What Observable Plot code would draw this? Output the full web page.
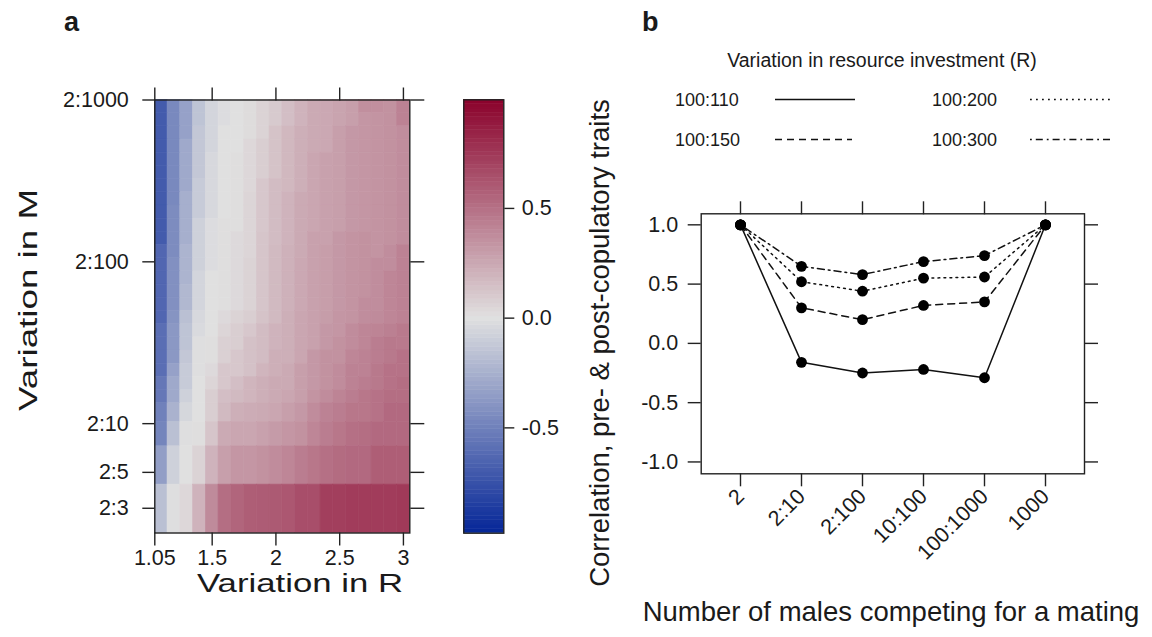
<!DOCTYPE html>
<html><head><meta charset="utf-8">
<script src="https://cdn.jsdelivr.net/npm/d3@7"></script>
<script src="https://cdn.jsdelivr.net/npm/@observablehq/plot@0.6"></script>
<style>
html,body{margin:0;padding:0;background:#fff;}
#wrap{position:relative;width:1152px;height:637px;overflow:hidden;background:#fff;}
#wrap > svg{position:absolute;left:0;top:0;}
</style></head><body><div id="wrap"></div>
<script>
// ---------- Panel a data ----------
// column edges of Variation in R
const rEdges = [1.05,1.15,1.25,1.35,1.45,1.55,1.65,1.75,1.85,1.95,2.05,2.15,2.25,2.35,2.45,2.55,2.65,2.75,2.85,2.95,3.05];
// row edges of Variation in M (2:n, value n), top to bottom
const mEdges = [1000,828.8,687.1,569.7,472.2,391.4,324.4,268.9,222.9,184.8,153.2,126.9,105.2,87.23,72.31,59.95,49.70,41.19,34.14,28.31,23.46,19.45,16.12,13.37,10.23,7.24,4.20,2.11];
const rTicks = [1.05,1.5,2,2.5,3];
const mTicks = [3,5,10,100,1000];
const mTickLabels = ["2:3","2:5","2:10","2:100","2:1000"];
// correlation values, rows top (2:1000) to bottom (2:3), columns R 1.05 -> 3.05
const corr = [
[-0.70,-0.46,-0.33,-0.15,-0.06,-0.02,0.00,0.02,0.06,0.10,0.15,0.20,0.24,0.25,0.27,0.29,0.36,0.36,0.35,0.42],
[-0.70,-0.46,-0.33,-0.15,-0.06,-0.02,0.00,0.02,0.06,0.10,0.15,0.20,0.24,0.25,0.27,0.29,0.33,0.34,0.35,0.42],
[-0.70,-0.46,-0.33,-0.13,-0.06,0.00,0.00,0.02,0.06,0.13,0.18,0.22,0.24,0.25,0.29,0.32,0.33,0.34,0.35,0.37],
[-0.70,-0.46,-0.29,-0.13,-0.06,0.00,0.00,0.04,0.08,0.13,0.18,0.22,0.24,0.25,0.29,0.32,0.33,0.34,0.35,0.37],
[-0.70,-0.46,-0.29,-0.13,-0.04,0.00,0.01,0.04,0.08,0.13,0.18,0.22,0.26,0.28,0.29,0.32,0.33,0.34,0.35,0.37],
[-0.70,-0.46,-0.29,-0.13,-0.04,0.00,0.01,0.04,0.08,0.13,0.18,0.22,0.26,0.28,0.29,0.32,0.33,0.34,0.35,0.37],
[-0.70,-0.46,-0.29,-0.11,-0.04,0.00,0.01,0.04,0.11,0.16,0.18,0.22,0.26,0.28,0.29,0.32,0.33,0.34,0.35,0.37],
[-0.70,-0.46,-0.26,-0.11,-0.04,0.00,0.01,0.05,0.11,0.16,0.20,0.24,0.26,0.28,0.29,0.32,0.33,0.34,0.35,0.37],
[-0.70,-0.44,-0.26,-0.11,-0.04,0.00,0.01,0.05,0.11,0.16,0.20,0.24,0.26,0.28,0.29,0.32,0.33,0.34,0.35,0.37],
[-0.70,-0.44,-0.26,-0.08,-0.02,0.01,0.01,0.05,0.11,0.16,0.20,0.24,0.26,0.28,0.29,0.32,0.33,0.34,0.35,0.37],
[-0.70,-0.44,-0.26,-0.08,-0.02,0.01,0.03,0.05,0.12,0.16,0.20,0.24,0.28,0.28,0.32,0.34,0.35,0.34,0.35,0.37],
[-0.64,-0.44,-0.23,-0.08,-0.02,0.01,0.03,0.05,0.12,0.17,0.21,0.24,0.28,0.295,0.32,0.34,0.35,0.34,0.37,0.42],
[-0.64,-0.42,-0.23,-0.08,-0.02,0.01,0.03,0.06,0.12,0.17,0.21,0.25,0.28,0.295,0.32,0.34,0.35,0.37,0.37,0.42],
[-0.64,-0.42,-0.23,-0.06,0.00,0.01,0.03,0.06,0.12,0.17,0.21,0.25,0.28,0.295,0.32,0.34,0.35,0.37,0.40,0.42],
[-0.64,-0.42,-0.21,-0.06,0.00,0.01,0.03,0.06,0.12,0.17,0.21,0.25,0.28,0.295,0.32,0.34,0.35,0.37,0.40,0.42],
[-0.64,-0.42,-0.21,-0.06,0.00,0.01,0.03,0.06,0.12,0.17,0.21,0.25,0.28,0.295,0.32,0.34,0.37,0.37,0.40,0.42],
[-0.64,-0.40,-0.17,-0.04,0.00,0.03,0.06,0.08,0.13,0.17,0.22,0.26,0.28,0.30,0.33,0.34,0.37,0.38,0.40,0.42],
[-0.60,-0.38,-0.15,-0.03,0.00,0.05,0.08,0.11,0.16,0.20,0.22,0.26,0.28,0.32,0.33,0.375,0.40,0.41,0.43,0.455],
[-0.60,-0.38,-0.15,-0.01,0.01,0.07,0.08,0.14,0.16,0.20,0.22,0.26,0.28,0.32,0.35,0.375,0.40,0.44,0.46,0.455],
[-0.60,-0.38,-0.13,-0.01,0.01,0.07,0.11,0.14,0.16,0.22,0.22,0.26,0.32,0.35,0.35,0.40,0.42,0.44,0.46,0.49],
[-0.60,-0.33,-0.11,-0.01,0.03,0.11,0.11,0.14,0.19,0.22,0.24,0.29,0.32,0.35,0.375,0.42,0.42,0.46,0.49,0.49],
[-0.55,-0.29,-0.11,0.00,0.05,0.11,0.15,0.19,0.22,0.24,0.24,0.29,0.32,0.35,0.375,0.42,0.44,0.46,0.49,0.51],
[-0.55,-0.29,-0.08,0.00,0.08,0.15,0.17,0.19,0.22,0.24,0.26,0.29,0.34,0.375,0.41,0.44,0.47,0.49,0.51,0.51],
[-0.50,-0.24,-0.05,0.00,0.08,0.17,0.22,0.23,0.24,0.26,0.29,0.32,0.375,0.42,0.44,0.47,0.47,0.49,0.53,0.53],
[-0.48,-0.17,-0.01,0.01,0.12,0.24,0.26,0.26,0.28,0.31,0.33,0.35,0.40,0.44,0.47,0.50,0.51,0.53,0.53,0.53],
[-0.35,-0.08,0.00,0.06,0.20,0.29,0.33,0.33,0.35,0.375,0.40,0.44,0.47,0.50,0.52,0.53,0.53,0.58,0.58,0.58],
[-0.17,-0.01,0.04,0.20,0.38,0.51,0.55,0.58,0.59,0.60,0.61,0.65,0.65,0.72,0.72,0.73,0.73,0.73,0.73,0.74]
];
const keyTicks = [-0.5,0,0.5];
const keyRange = [-0.98,0.995];

// ---------- Panel b data ----------
const males = ["2","2:10","2:100","10:100","100:1000","1000"];
const r110 = [1.00,-0.16,-0.25,-0.22,-0.29,1.00];
const r150 = [1.00,0.30,0.20,0.32,0.35,1.00];
const r200 = [1.00,0.52,0.44,0.55,0.56,1.00];
const r300 = [1.00,0.65,0.58,0.69,0.74,1.00];
const seriesNames = ["100:110","100:150","100:200","100:300"];
const corrTicks = [-1,-0.5,0,0.5,1];

// ---------- styles ----------
const FONT = "'Liberation Sans', Arial, Helvetica, sans-serif";
const INK = "#1a1a1a";
const dashes = {"100:110": null, "100:150": "7,5", "100:200": "1.8,4.2", "100:300": "1.8,4,7,4"};
const colorOpts = {type: "linear", domain: [-1, 0, 1], range: ["rgb(0,34,150)", "rgb(224,224,224)", "rgb(138,0,42)"], interpolate: "rgb"};
const baseStyle = {fontFamily: FONT, fontSize: "21.5px", color: INK, background: "transparent", overflow: "visible"};
const W = 1152, H = 637;

const wrap = document.getElementById("wrap");

// ---------- Panel a heatmap ----------
const cells = [];
corr.forEach((row, i) => row.forEach((v, j) => cells.push({
  x1: rEdges[j], x2: rEdges[j + 1], y1: mEdges[i + 1], y2: mEdges[i], v
})));
const noLab = () => "";
const mTickRows = mTicks.map((t, i) => ({t, label: mTickLabels[i]}));
const plotA = Plot.plot({
  width: W, height: H,
  marginLeft: 154.3, marginRight: W - 409.3, marginTop: 99.5, marginBottom: H - 532.5,
  style: baseStyle,
  x: {domain: [1.05, 3.05]},
  y: {type: "log", domain: [2.11, 1000]},
  color: colorOpts,
  marks: [
    Plot.rect(cells, {x1: "x1", x2: "x2", y1: "y1", y2: "y2", fill: "v", stroke: "v", strokeWidth: 0.6}),
    Plot.frame({stroke: "#222", strokeWidth: 1.4}),
    Plot.axisX({anchor: "bottom", ticks: rTicks, tickFormat: d => String(d), tickSize: 13, tickPadding: 4, stroke: "#222", strokeWidth: 1.4, label: null}),
    Plot.axisX({anchor: "top", ticks: rTicks, tickFormat: noLab, tickSize: 13, stroke: "#222", strokeWidth: 1.4, label: null}),
    Plot.axisY({anchor: "left", ticks: mTicks, tickFormat: noLab, tickSize: 12, stroke: "#222", strokeWidth: 1.4, label: null}),
    Plot.text(mTickRows, {y: "t", text: "label", frameAnchor: "left", dx: -26, textAnchor: "end", fill: INK}),
    Plot.axisY({anchor: "right", ticks: mTicks, tickFormat: noLab, tickSize: 14, stroke: "#222", strokeWidth: 1.4, label: null})
  ]
});
wrap.appendChild(plotA);

// ---------- colour key ----------
const nBands = 100;
const bands = d3.range(nBands).map(i => {
  const lo = keyRange[0] + (keyRange[1] - keyRange[0]) * i / nBands;
  const hi = keyRange[0] + (keyRange[1] - keyRange[0]) * (i + 1) / nBands;
  return {lo, hi, mid: (lo + hi) / 2};
});
const plotKey = Plot.plot({
  width: W, height: H,
  marginLeft: 463.3, marginRight: W - 503.3, marginTop: 99.3, marginBottom: H - 532.7,
  style: baseStyle,
  x: {domain: [0, 1], axis: null},
  y: {domain: keyRange},
  color: colorOpts,
  marks: [
    Plot.rect(bands, {x1: 0, x2: 1, y1: "lo", y2: "hi", fill: "mid", stroke: "mid", strokeWidth: 0.5}),
    Plot.frame({stroke: "#222", strokeWidth: 1.4}),
    Plot.axisY({anchor: "right", ticks: keyTicks, tickFormat: d => d.toFixed(1), tickSize: 10, tickPadding: 8, stroke: "#222", strokeWidth: 1.4, label: null})
  ]
});
wrap.appendChild(plotKey);

// ---------- Panel b ----------
const allSeries = [r110, r150, r200, r300];
const pts = [];
allSeries.forEach((vals, k) => vals.forEach((v, i) => pts.push({m: males[i], v, s: seriesNames[k]})));
const plotB = Plot.plot({
  width: W, height: H,
  marginLeft: 700.7, marginRight: W - 1084, marginTop: 213.3, marginBottom: H - 473.3,
  style: baseStyle,
  x: {type: "point", domain: males, padding: 0.6},
  y: {domain: [-1.1, 1.093]},
  marks: [
    Plot.frame({stroke: "#222", strokeWidth: 1.4}),
    ...seriesNames.map(name => Plot.line(pts.filter(d => d.s === name), {
      x: "m", y: "v", stroke: "#111", strokeWidth: 1.5, strokeDasharray: dashes[name]
    })),
    Plot.dot(pts, {x: "m", y: "v", r: 5.4, fill: "#000", stroke: "none"}),
    Plot.axisY({anchor: "left", ticks: corrTicks, tickFormat: d => d.toFixed(1), tickSize: 13, tickPadding: 10, stroke: "#222", strokeWidth: 1.4, label: null}),
    Plot.axisY({anchor: "right", ticks: corrTicks, tickFormat: noLab, tickSize: 13, stroke: "#222", strokeWidth: 1.4, label: null}),
    Plot.axisX({anchor: "bottom", tickSize: 13, tickPadding: 6, tickRotate: -45, stroke: "#222", strokeWidth: 1.4, label: null}),
    Plot.axisX({anchor: "top", tickSize: 13, tickFormat: noLab, stroke: "#222", strokeWidth: 1.4, label: null})
  ]
});
wrap.appendChild(plotB);

// ---------- overlay: titles, panel letters, legend ----------
const ov = d3.create("svg").attr("width", W).attr("height", H)
  .style("font-family", FONT).style("overflow", "visible");
function label(x, y, s, o = {}) {
  const t = ov.append("text").attr("x", x).attr("y", y).text(s)
    .attr("fill", INK).attr("font-size", o.size || 21)
    .attr("text-anchor", o.anchor || "start");
  if (o.bold) t.attr("font-weight", "bold");
  if (o.rotate) t.attr("transform", `rotate(-90 ${x} ${y})`);
  if (o.len) t.attr("textLength", o.len).attr("lengthAdjust", "spacingAndGlyphs");
  return t;
}
label(64, 31, "a", {size: 27, bold: true});
label(642, 31, "b", {size: 27, bold: true});
label(300, 592, "Variation in R", {size: 26, anchor: "middle", len: 206});
label(37, 300, "Variation in M", {size: 26, anchor: "middle", rotate: true, len: 222});
label(609, 343, "Correlation, pre- & post-copulatory traits", {size: 27.5, anchor: "middle", rotate: true});
label(891, 621, "Number of males competing for a mating", {size: 27.5, anchor: "middle"});

// legend
label(882, 67, "Variation in resource investment (R)", {size: 19.5, anchor: "middle"});
const legendItems = [
  {name: "100:110", tx: 675, ty: 106, lx1: 775, lx2: 855, ly: 99.5},
  {name: "100:150", tx: 675, ty: 146, lx1: 775, lx2: 852, ly: 139.5},
  {name: "100:200", tx: 932, ty: 106, lx1: 1030, lx2: 1110, ly: 99.5},
  {name: "100:300", tx: 932, ty: 146, lx1: 1030, lx2: 1110, ly: 139.5}
];
legendItems.forEach(it => {
  label(it.tx, it.ty, it.name, {size: 18});
  const ln = ov.append("line").attr("x1", it.lx1).attr("x2", it.lx2).attr("y1", it.ly).attr("y2", it.ly)
    .attr("stroke", "#111").attr("stroke-width", 1.5);
  if (dashes[it.name]) ln.attr("stroke-dasharray", dashes[it.name]);
});
wrap.appendChild(ov.node());
</script></body></html>
